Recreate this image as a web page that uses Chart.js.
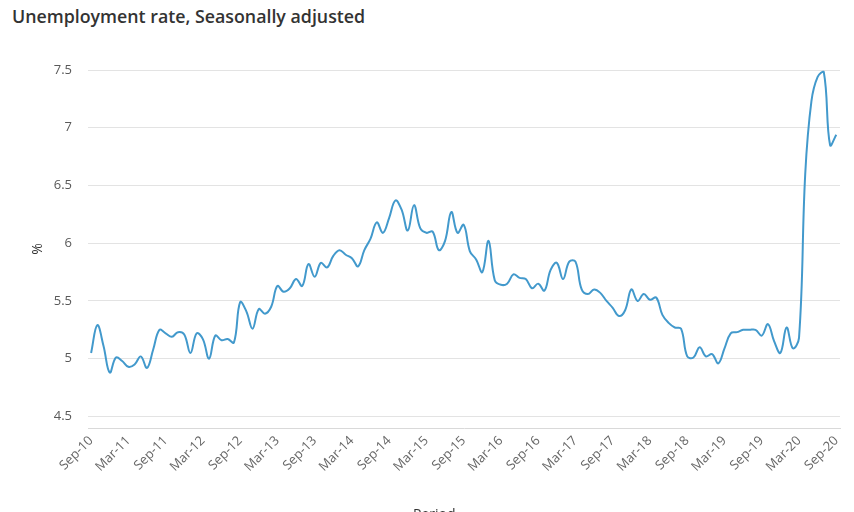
<!DOCTYPE html>
<html><head><meta charset="utf-8">
<script src="https://cdn.jsdelivr.net/npm/chart.js@4"></script>
<style>
html,body{margin:0;padding:0;width:854px;height:512px;overflow:hidden;background:#fff;}
#title{position:absolute;left:12px;top:4px;font-family:"Open Sans";font-size:17.8px;font-weight:600;color:#333;white-space:nowrap;}
#xt{position:absolute;left:413px;top:504px;font-family:"Open Sans";font-size:14px;color:#333;}
canvas{position:absolute;left:0;top:0;}
</style></head><body>
<div id="title">Unemployment rate, Seasonally adjusted</div>
<canvas id="c" width="854" height="512"></canvas>
<div id="xt">Period</div>
<script>
// Tick labels every 6 months, Sep-10 .. Sep-20
const tickLabels = ["Sep-10","Mar-11","Sep-11","Mar-12","Sep-12","Mar-13","Sep-13","Mar-14","Sep-14","Mar-15","Sep-15","Mar-16","Sep-16","Mar-17","Sep-17","Mar-18","Sep-18","Mar-19","Sep-19","Mar-20","Sep-20"];
const monthsPerTick = 6;
// Monthly unemployment rate (%), Sep-10 .. Sep-20
const values = [
 5.05,5.29,5.11,4.88,5.01,4.98,4.93,4.95,5.02,4.92,5.08,5.25,
 5.22,5.19,5.23,5.21,5.05,5.22,5.17,5.00,5.20,5.16,5.17,5.14,
 5.49,5.41,5.26,5.43,5.39,5.45,5.63,5.58,5.61,5.69,5.63,5.82,
 5.71,5.83,5.79,5.89,5.94,5.90,5.87,5.80,5.94,6.04,6.18,6.09,
 6.22,6.37,6.29,6.11,6.33,6.13,6.09,6.10,5.94,6.02,6.27,6.09,
 6.16,5.93,5.86,5.75,6.02,5.68,5.64,5.65,5.73,5.70,5.69,5.61,
 5.65,5.59,5.77,5.83,5.69,5.84,5.84,5.60,5.56,5.60,5.57,5.50,
 5.44,5.37,5.42,5.60,5.50,5.56,5.51,5.53,5.38,5.31,5.27,5.26,
 5.02,5.01,5.10,5.02,5.04,4.96,5.09,5.22,5.23,5.25,5.25,5.25,
 5.20,5.30,5.15,5.05,5.27,5.09,5.18,6.60,7.23,7.44,7.48,6.85,
 6.94
];
const yTickValues = [4.5,5,5.5,6,6.5,7,7.5];

const ctx = document.getElementById('c').getContext('2d');
new Chart(ctx, {
  type: 'line',
  data: {
    datasets: [{
      data: values.map((v, i) => ({x: i, y: v})),
      borderColor: '#4299cc',
      borderWidth: 2,
      pointRadius: 0,
      tension: 0.4,
      fill: false
    }]
  },
  options: {
    responsive: false,
    animation: false,
    layout: {padding: {top: 70, right: 14, bottom: 0, left: 0}},
    plugins: {legend: {display: false}, tooltip: {enabled: false}, title: {display: false}},
    scales: {
      x: {
        type: 'linear',
        min: -0.5,
        max: values.length - 0.4,
        afterBuildTicks: s => { s.ticks = tickLabels.map((t, k) => ({value: k * monthsPerTick})); },
        ticks: {
          callback: v => tickLabels[Math.round(v / monthsPerTick)],
          autoSkip: false,
          maxRotation: 45, minRotation: 45,
          color: '#666',
          font: {family: 'Open Sans', size: 13},
          padding: 5
        },
        grid: {display: false, drawTicks: false},
        border: {display: true, color: '#d9d9d9'},
        afterFit: s => { s.height = 84; }
      },
      y: {
        min: 4.4,
        max: 7.5,
        afterBuildTicks: s => { s.ticks = yTickValues.map(v => ({value: v})); },
        ticks: {
          callback: v => String(v),
          color: '#595959',
          font: {family: 'Open Sans', size: 13},
          padding: 16
        },
        grid: {color: '#e3e3e3', drawTicks: false},
        border: {display: false},
        title: {display: true, text: '%', color: '#333', font: {family: 'Open Sans', size: 14}, padding: {top: 30, bottom: 0}},
        afterFit: s => { s.width = 88; }
      }
    }
  }
});
</script>
</body></html>
